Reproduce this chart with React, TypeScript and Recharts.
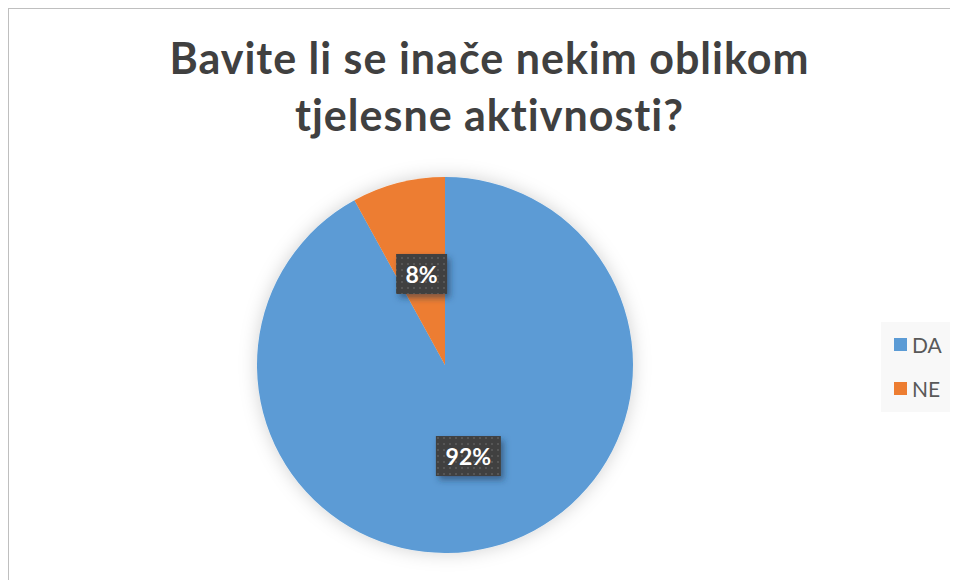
import React from 'react';
import { PieChart, Pie, Cell, Legend } from 'recharts';

const categories = ['DA', 'NE'];
const shares = [92, 8];
const sliceColors = ['#5B9BD5', '#ED7D31'];
const titleLines = ['Bavite li se inače nekim oblikom', 'tjelesne aktivnosti?'];

const data = categories.map((name, i) => ({ name, value: shares[i] }));

const FONT = 'Lato, "Open Sans", sans-serif';

const RADIAN = Math.PI / 180;

const renderLabel = (props: any) => {
  const { cx, cy, midAngle, outerRadius, percent } = props;
  const r = outerRadius * 0.5;
  const x = cx + r * Math.cos(-midAngle * RADIAN);
  const y = cy + r * Math.sin(-midAngle * RADIAN);
  const text = `${Math.round(percent * 100)}%`;
  const w = 23 + text.length * 14;
  const h = 40;
  return (
    <g>
      <rect x={x - w / 2} y={y - h / 2} width={w} height={h} fill="url(#labelDots)" filter="url(#labelShadow)" />
      <text
        x={x}
        y={y}
        textAnchor="middle"
        dominantBaseline="central"
        fill="#ffffff"
        fontFamily={FONT}
        fontWeight={700}
        fontSize={23}
      >
        {text}
      </text>
    </g>
  );
};

const LegendBox = ({ payload }: any) => (
  <div style={{ background: '#f8f8f8', width: 72, height: 90, paddingTop: 4, boxSizing: 'border-box' }}>
    {(payload || []).map((entry: any) => (
      <div key={entry.value} style={{ display: 'flex', alignItems: 'center', height: 36, marginBottom: 8, paddingLeft: 13 }}>
        <span style={{ width: 13, height: 13, background: entry.color, display: 'inline-block', marginRight: 5 }} />
        <span style={{ fontFamily: FONT, fontSize: 21, color: '#595959' }}>{entry.value}</span>
      </div>
    ))}
  </div>
);

const App: React.FC = () => {
  return (
    <div
      style={{
        position: 'relative',
        width: 949,
        height: 571,
        borderTop: '1px solid #bfbfbf',
        borderLeft: '1px solid #bfbfbf',
        background: '#ffffff',
      }}
    >
      <style>{`.recharts-pie { filter: url(#pieGlow); }`}</style>
      <div
        style={{
          position: 'absolute',
          top: 20,
          left: 0,
          width: 949,
          paddingLeft: 12,
          boxSizing: 'border-box',
          textAlign: 'center',
          fontFamily: FONT,
          fontWeight: 700,
          fontSize: 43,
          letterSpacing: 1,
          lineHeight: '57px',
          color: '#404040',
          zIndex: 1,
        }}
      >
        {titleLines.map((line) => (
          <div key={line}>{line}</div>
        ))}
      </div>
      <PieChart width={949} height={571} margin={{ top: 0, right: 0, bottom: 0, left: 0 }}>
        <defs>
          <pattern id="labelDots" width={6} height={6} patternUnits="userSpaceOnUse">
            <rect width={6} height={6} fill="#404040" />
            <rect x={2} y={2} width={2} height={2} fill="#565656" />
          </pattern>
          <filter id="labelShadow" x="-30%" y="-30%" width="170%" height="170%">
            <feDropShadow dx={3} dy={4} stdDeviation={3} floodColor="#1f3550" floodOpacity={0.55} />
          </filter>
          <filter id="pieGlow" x="-20%" y="-20%" width="140%" height="140%">
            <feDropShadow dx={0} dy={0} stdDeviation={9} floodColor="#000000" floodOpacity={0.18} />
          </filter>
        </defs>
        <Pie
          data={data}
          dataKey="value"
          nameKey="name"
          cx={436}
          cy={356}
          outerRadius={188}
          startAngle={90}
          endAngle={-270}
          stroke="none"
          label={renderLabel}
          labelLine={false}
          isAnimationActive={false}
        >
          {data.map((d, i) => (
            <Cell key={d.name} fill={sliceColors[i]} />
          ))}
        </Pie>
        <Legend
          layout="vertical"
          align="right"
          verticalAlign="middle"
          content={<LegendBox />}
          wrapperStyle={{ top: 313, left: 872, right: 'auto', width: 72 }}
        />
      </PieChart>
    </div>
  );
};

export default App;
